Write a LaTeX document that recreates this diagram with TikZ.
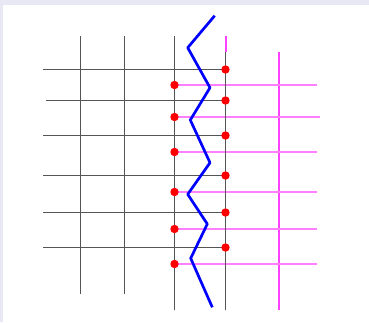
\documentclass[tikz,border=0pt]{standalone}
\usetikzlibrary{calc}
\definecolor{bgband}{HTML}{E8E8F4}
\definecolor{gridgrey}{HTML}{555555}
\definecolor{pinkline}{HTML}{FF80FF}
\definecolor{pinkvert}{HTML}{FF40FF}
\tikzset{
  blackgrid/.style={draw=gridgrey, line width=1.4pt},
  pinkgrid/.style={draw=pinkline, line width=2pt},
  pinkv/.style={draw=pinkvert, line width=2pt},
  zig/.style={draw=blue, line width=2.7pt, line join=round},
  reddot/.style={fill=red, draw=none}
}
\begin{document}
\begin{tikzpicture}[x=1pt,y=-1pt]
\useasboundingbox (0,0) rectangle (369,322);
\fill[bgband] (0,0) rectangle (369,322);
\fill[white] (3,5) rectangle (369,322);
% pink verticals
\draw[pinkv] (225.5,36) -- (225.5,52);
\draw[pinkv] (279,52) -- (279,310);
% pink horizontals
\foreach \y/\xe in {85/317,117/320,152/317,192/317,229/317,264/317}
  \draw[pinkgrid] (174.5,\y) -- (\xe,\y);
% black verticals
\draw[blackgrid] (80.5,36) -- (80.5,294);
\draw[blackgrid] (124.5,36) -- (124.5,294);
\draw[blackgrid] (174.5,36) -- (174.5,310);
\draw[blackgrid] (225.5,52) -- (225.5,310);
% black horizontals
\foreach \y/\xs in {69.5/43,100.5/46.3,135.5/43,175.5/43,212.5/43,247.5/43}
  \draw[blackgrid] (\xs,\y) -- (225.5,\y);
% red dots
\foreach \y in {69.5,100.5,135.5,175.5,212.5,247.5}
  \fill[reddot] (225.5,\y) circle (4.2);
\foreach \y in {85,117,152,192,229,264}
  \fill[reddot] (174.5,\y) circle (4.2);
% blue zigzag
\draw[zig] (214.7,15.7) -- (187.7,47.7) -- (210,87.7) -- (190.3,120) -- (210,162.7)
  -- (187.7,194.3) -- (207.3,224) -- (190.7,258.3) -- (212.3,307.3);
\end{tikzpicture}
\end{document}
